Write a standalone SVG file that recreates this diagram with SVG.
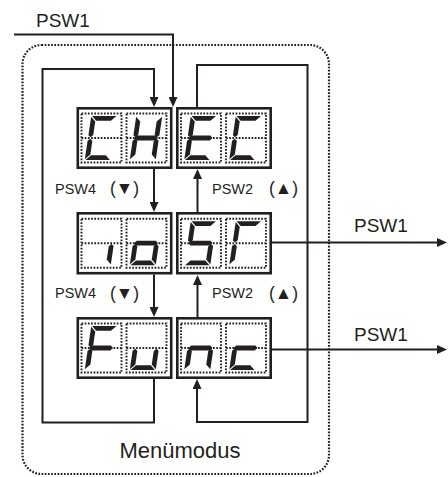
<svg xmlns="http://www.w3.org/2000/svg" xmlns:xlink="http://www.w3.org/1999/xlink" width="448" height="477" viewBox="0 0 448 477">
<style>
.box{fill:#fff;stroke:#231f20;stroke-width:2.6}
.frm{fill:none;stroke:#231f20;stroke-width:1.9;stroke-dasharray:1.7 1.5}
.seg{fill:#231f20}
.con{fill:none;stroke:#231f20;stroke-width:2}
.dot{fill:none;stroke:#231f20;stroke-width:2.2;stroke-dasharray:1.7 1.5}
.lbl{font-family:"Liberation Sans",Arial,sans-serif;fill:#231f20}
</style>
<defs>
<marker id="ah" markerUnits="userSpaceOnUse" viewBox="0 0 10 9" markerWidth="10" markerHeight="9" refX="0" refY="4.5" orient="auto"><path d="M0,0 L10,4.5 L0,9 Z" fill="#231f20"/></marker>
<path id="fr" d="M0,0 H40 V49 H0 Z M0,24.5 H40"/>
<path id="sa" d="M7.3,2.5 H31.7 L26.9,7.3 H12.1 Z"/>
<path id="sd" d="M12.1,41.7 H26.9 L31.7,46.5 H7.3 Z"/>
<path id="sf" d="M6.5,3.3 L11.3,8.1 V21.5 L8.9,23.7 L6.5,21.7 Z"/>
<path id="se" d="M6.5,27.3 L8.9,25.3 L11.3,27.5 V40.9 L6.5,45.7 Z"/>
<path id="sb" d="M32.5,3.3 V21.7 L30.1,23.7 L27.7,21.5 V8.1 Z"/>
<path id="sc" d="M32.5,45.7 V27.3 L30.1,25.3 L27.7,27.5 V40.9 Z"/>
<path id="sg" d="M7.5,24.5 L9.9,22.1 H29.1 L31.5,24.5 L29.1,26.9 H9.9 Z"/>
</defs>

<rect class="dot" x="22.5" y="45" width="306.5" height="429" rx="19"/>

<g id="connectors">
<path class="con" d="M14,34.5 H173 V97" marker-end="url(#ah)"/>
<path class="con" d="M154,379 V422.5 H42.5 V69 H154 V97" marker-end="url(#ah)"/>
<path class="con" d="M197,107 V65 H307.5 V422 H197 V389" marker-end="url(#ah)"/>
<path class="con" d="M154,169 V202" marker-end="url(#ah)"/>
<path class="con" d="M154,274.5 V307" marker-end="url(#ah)"/>
<path class="con" d="M197.5,317 V285" marker-end="url(#ah)"/>
<path class="con" d="M197.5,212 V179" marker-end="url(#ah)"/>
<path class="con" d="M272,242.5 H437" marker-end="url(#ah)"/>
<path class="con" d="M272,349.5 H437" marker-end="url(#ah)"/>
</g>

<g id="node-CH">
<rect class="box" x="77.8" y="108.3" width="93.4" height="59.4"/>
<g transform="translate(81.5,113.5)"><use href="#fr" class="frm"/><g class="seg" transform="translate(0,24.5) skewX(-8.5) translate(0,-24.5)"><use href="#sa"/><use href="#sf"/><use href="#se"/><use href="#sd"/></g></g>
<g transform="translate(126.5,113.5)"><use href="#fr" class="frm"/><g class="seg" transform="translate(0,24.5) skewX(-8.5) translate(0,-24.5)"><use href="#sf"/><use href="#se"/><use href="#sb"/><use href="#sc"/><use href="#sg"/></g></g>
</g>

<g id="node-EC">
<rect class="box" x="177.3" y="108.3" width="93.4" height="59.4"/>
<g transform="translate(181,113.5)"><use href="#fr" class="frm"/><g class="seg" transform="translate(0,24.5) skewX(-8.5) translate(0,-24.5)"><use href="#sa"/><use href="#sf"/><use href="#se"/><use href="#sd"/><use href="#sg"/></g></g>
<g transform="translate(226,113.5)"><use href="#fr" class="frm"/><g class="seg" transform="translate(0,24.5) skewX(-8.5) translate(0,-24.5)"><use href="#sa"/><use href="#sf"/><use href="#se"/><use href="#sd"/></g></g>
</g>

<g id="node-io">
<rect class="box" x="77.8" y="213.3" width="93.4" height="59.9"/>
<g transform="translate(81.5,218.7)"><use href="#fr" class="frm"/><g class="seg" transform="translate(0,24.5) skewX(-8.5) translate(0,-24.5)"><use href="#sc"/></g></g>
<g transform="translate(126.5,218.7)"><use href="#fr" class="frm"/><g class="seg" transform="translate(0,24.5) skewX(-8.5) translate(0,-24.5)"><use href="#sg"/><use href="#sc"/><use href="#sd"/><use href="#se"/></g></g>
</g>

<g id="node-SF">
<rect class="box" x="177.3" y="213.3" width="93.4" height="59.9"/>
<g transform="translate(181,218.7)"><use href="#fr" class="frm"/><g class="seg" transform="translate(0,24.5) skewX(-8.5) translate(0,-24.5)"><use href="#sa"/><use href="#sf"/><use href="#sg"/><use href="#sc"/><use href="#sd"/></g></g>
<g transform="translate(226,218.7)"><use href="#fr" class="frm"/><g class="seg" transform="translate(0,24.5) skewX(-8.5) translate(0,-24.5)"><use href="#sa"/><use href="#sf"/><use href="#se"/></g></g>
</g>

<g id="node-Fu">
<rect class="box" x="77.8" y="318.3" width="93.4" height="59.4"/>
<g transform="translate(81.5,323.5)"><use href="#fr" class="frm"/><g class="seg" transform="translate(0,24.5) skewX(-8.5) translate(0,-24.5)"><use href="#sa"/><use href="#sf"/><use href="#se"/><use href="#sg"/></g></g>
<g transform="translate(126.5,323.5)"><use href="#fr" class="frm"/><g class="seg" transform="translate(0,24.5) skewX(-8.5) translate(0,-24.5)"><use href="#se"/><use href="#sd"/><use href="#sc"/></g></g>
</g>

<g id="node-nc">
<rect class="box" x="177.3" y="318.3" width="93.4" height="59.4"/>
<g transform="translate(181,323.5)"><use href="#fr" class="frm"/><g class="seg" transform="translate(0,24.5) skewX(-8.5) translate(0,-24.5)"><use href="#se"/><use href="#sg"/><use href="#sc"/></g></g>
<g transform="translate(226,323.5)"><use href="#fr" class="frm"/><g class="seg" transform="translate(0,24.5) skewX(-8.5) translate(0,-24.5)"><use href="#sg"/><use href="#se"/><use href="#sd"/></g></g>
</g>

<g id="labels">
<text class="lbl" x="36" y="27" font-size="19">PSW1</text>
<text class="lbl" x="55" y="193.5" font-size="14.5">PSW4</text>
<text class="lbl" x="110" y="194" font-size="17.5">(▼)</text>
<text class="lbl" x="55" y="298" font-size="14.5">PSW4</text>
<text class="lbl" x="110" y="298.5" font-size="17.5">(▼)</text>
<text class="lbl" x="212" y="193.5" font-size="14.5">PSW2</text>
<text class="lbl" x="269" y="194" font-size="17.5">(▲)</text>
<text class="lbl" x="212" y="298" font-size="14.5">PSW2</text>
<text class="lbl" x="269" y="298.5" font-size="17.5">(▲)</text>
<text class="lbl" x="354" y="232" font-size="19">PSW1</text>
<text class="lbl" x="354" y="341" font-size="19">PSW1</text>
<text class="lbl" x="180" y="458" font-size="22" text-anchor="middle">Menümodus</text>
</g>
</svg>
